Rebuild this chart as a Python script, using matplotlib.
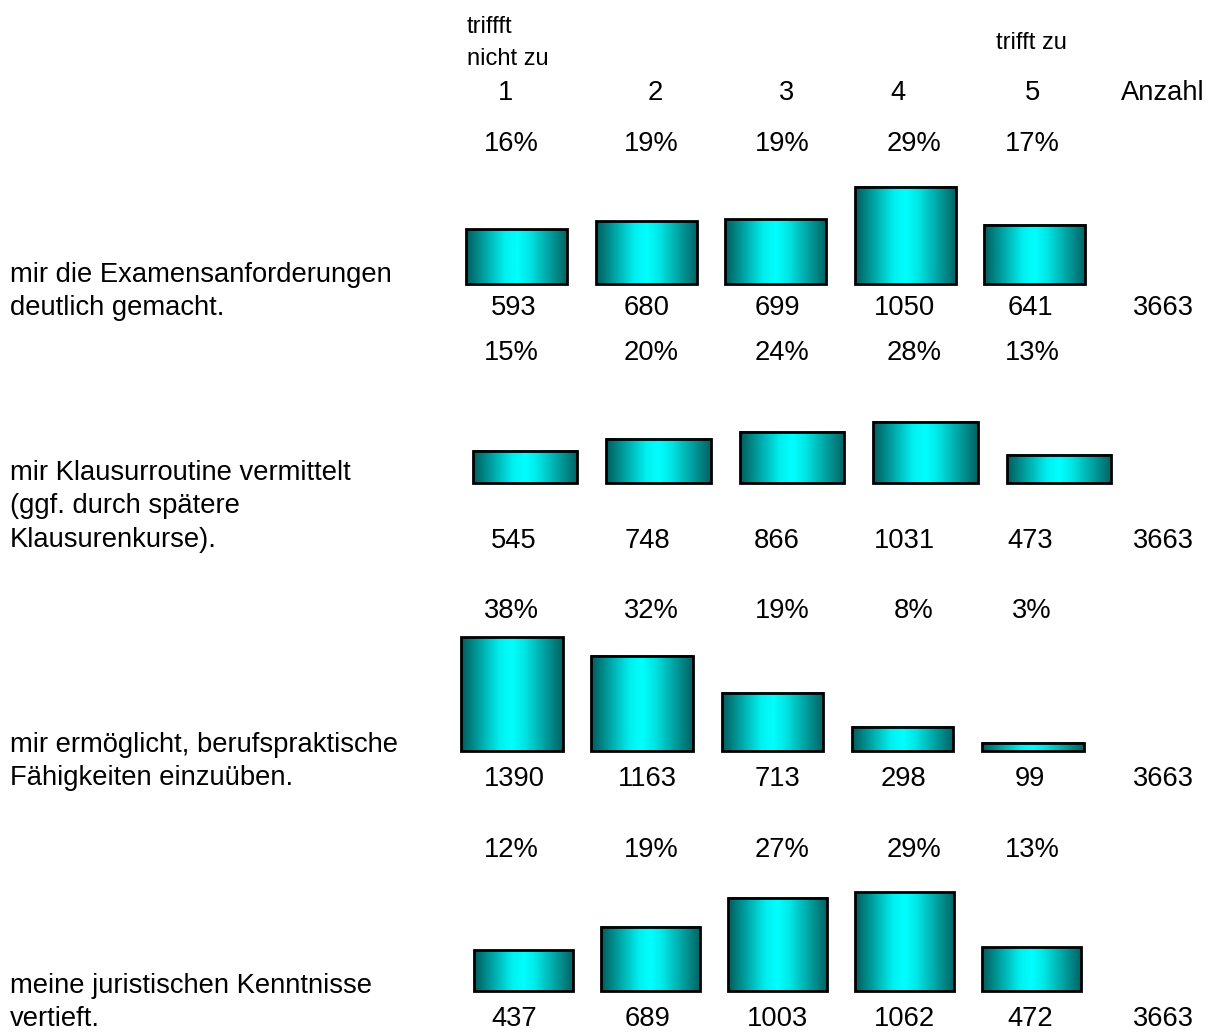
import numpy as np
import matplotlib
matplotlib.use("Agg")
import matplotlib.pyplot as plt
from matplotlib.colors import LinearSegmentedColormap

# ---- data ----
scale_labels = ["1", "2", "3", "4", "5"]
count_header = "Anzahl"
low_label = "triffft\nnicht zu"
high_label = "trifft zu"

item_labels = [
    ["mir die Examensanforderungen", "deutlich gemacht."],
    ["mir Klausurroutine vermittelt", "(ggf. durch spätere", "Klausurenkurse)."],
    ["mir ermöglicht, berufspraktische", "Fähigkeiten einzuüben."],
    ["meine juristischen Kenntnisse", "vertieft."],
]

counts_exam = [593, 680, 699, 1050, 641]
counts_klausur = [545, 748, 866, 1031, 473]
counts_beruf = [1390, 1163, 713, 298, 99]
counts_kenntnis = [437, 689, 1003, 1062, 472]
counts = [counts_exam, counts_klausur, counts_beruf, counts_kenntnis]

pct_exam = ["16%", "19%", "19%", "29%", "17%"]
pct_klausur = ["15%", "20%", "24%", "28%", "13%"]
pct_beruf = ["38%", "32%", "19%", "8%", "3%"]
pct_kenntnis = ["12%", "19%", "27%", "29%", "13%"]
pcts = [pct_exam, pct_klausur, pct_beruf, pct_kenntnis]

totals = [3663, 3663, 3663, 3663]

# ---- layout (pixels) ----
W, H = 1218, 1033
fig = plt.figure(figsize=(W / 100, H / 100), dpi=100)
fig.patch.set_facecolor("white")

def fx(x):
    return x / W

def fy(y):
    return 1 - y / H

FS = 19.7
FS_HEAD = 17
FONT = "Liberation Sans"

# bar panels: first bar centre, bar pitch, baseline, pixel per count
first_center = [516.5, 525, 512, 523.5]
pitch = [129.6, 133.5, 130.2, 127]
baseline = [284, 483, 751, 991]
px_per_count = [0.0924, 0.0592, 0.0820, 0.0932]
bar_frac = 0.78
panel_h = 130

# text columns
head_x = [506, 655, 787, 898, 1032]
pct_x = [511, 651, 782, 914, 1032]
cnt_x = [514, 647, 777, 904, 1030]
total_x = 1163
pct_base = [151, 360, 618, 857]
cnt_base = [315, 548, 786, 1026]
label_base = [282, 480, 752, 993]
line_step = 33.3

cmap = LinearSegmentedColormap.from_list(
    "teal", [(0, "#005c5c"), (0.38, "#00f0f0"), (0.5, "#00ffff"),
             (0.62, "#00e6e6"), (1, "#006262")])
grad = np.linspace(0, 1, 256).reshape(1, -1)

for g in range(4):
    left = first_center[g] - pitch[g] / 2
    ax = fig.add_axes([fx(left), fy(baseline[g]), 5 * pitch[g] / W, panel_h / H])
    x = np.arange(5)
    rects = ax.bar(x, counts[g], width=bar_frac, facecolor="none",
                   edgecolor="black", linewidth=2.0, zorder=3)
    for r in rects:
        r.set_clip_on(False)
        ax.imshow(grad, cmap=cmap, aspect="auto", zorder=2,
                  extent=[r.get_x(), r.get_x() + r.get_width(), 0, r.get_height()])
    ax.set_xlim(-0.5, 4.5)
    ax.set_ylim(0, panel_h / px_per_count[g])
    ax.axis("off")

    for j in range(5):
        fig.text(fx(pct_x[j]), fy(pct_base[g]), pcts[g][j], ha="center",
                 va="baseline", fontsize=FS, family=FONT)
        fig.text(fx(cnt_x[j]), fy(cnt_base[g]), str(counts[g][j]), ha="center",
                 va="baseline", fontsize=FS, family=FONT)
    fig.text(fx(total_x), fy(cnt_base[g]), str(totals[g]), ha="center",
             va="baseline", fontsize=FS, family=FONT)
    for k, line in enumerate(item_labels[g]):
        fig.text(fx(10), fy(label_base[g] + k * line_step), line, ha="left",
                 va="baseline", fontsize=FS, family=FONT)

# header
for j in range(5):
    fig.text(fx(head_x[j]), fy(100), scale_labels[j], ha="center",
             va="baseline", fontsize=FS, family=FONT)
fig.text(fx(total_x), fy(100), count_header, ha="center", va="baseline",
         fontsize=FS, family=FONT)
low1, low2 = low_label.split("\n")
fig.text(fx(467), fy(33), low1, ha="left", va="baseline", fontsize=FS_HEAD, family=FONT)
fig.text(fx(467), fy(65), low2, ha="left", va="baseline", fontsize=FS_HEAD, family=FONT)
fig.text(fx(1031), fy(49), high_label, ha="center", va="baseline",
         fontsize=FS_HEAD, family=FONT)

fig.savefig("out.png", dpi=100, facecolor="white")
